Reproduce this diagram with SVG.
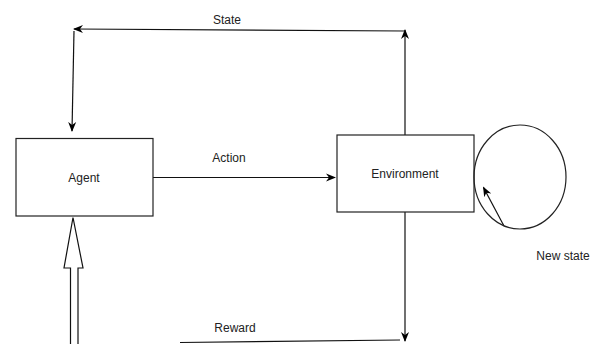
<svg xmlns="http://www.w3.org/2000/svg" width="595" height="344" viewBox="0 0 595 344">
<defs>
<marker id="ah" viewBox="0 0 10 10" refX="9" refY="5" markerWidth="10" markerHeight="10" markerUnits="userSpaceOnUse" orient="auto">
<path d="M0,1 L10,5 L0,9 L3,5 Z" fill="#000"/>
</marker>
</defs>
<style>
.box{fill:#fff;stroke:#222;stroke-width:1.2}
.ln{fill:none;stroke:#111;stroke-width:1.2}
.t{font-family:"Liberation Sans",Arial,sans-serif;font-size:12px;fill:#222;text-anchor:middle}
</style>
<rect width="595" height="344" fill="#fff"/>
<g id="connectors">
<line class="ln" x1="405" y1="135" x2="405" y2="30" marker-end="url(#ah)"/>
<line class="ln" x1="405" y1="31" x2="74" y2="29" marker-end="url(#ah)"/>
<line class="ln" x1="74" y1="31" x2="72" y2="131" marker-end="url(#ah)"/>
<line class="ln" x1="153" y1="177.5" x2="335" y2="177.5" marker-end="url(#ah)"/>
<line class="ln" x1="405" y1="212" x2="405" y2="341" marker-end="url(#ah)"/>
<line class="ln" x1="180" y1="342.5" x2="400" y2="340"/>
<path class="ln" d="M70.5,344 V268 H64 L73,217.5 L83,268 H78 V344" fill="#fff"/>
<line class="ln" x1="504" y1="226" x2="483.5" y2="187.5" marker-end="url(#ah)"/>
</g>
<g id="agent">
<rect class="box" x="16" y="138.5" width="137" height="77.5"/>
<text class="t" x="84" y="182">Agent</text>
</g>
<g id="environment">
<rect class="box" x="337" y="135" width="137" height="77"/>
<text class="t" x="405" y="177.5">Environment</text>
</g>
<g id="newstate">
<ellipse cx="520" cy="177" rx="46" ry="52" fill="none" stroke="#222" stroke-width="1.2"/>
<text class="t" x="563" y="260">New state</text>
</g>
<text class="t" x="227" y="23.5">State</text>
<text class="t" x="229" y="162">Action</text>
<text class="t" x="235" y="332">Reward</text>
</svg>
